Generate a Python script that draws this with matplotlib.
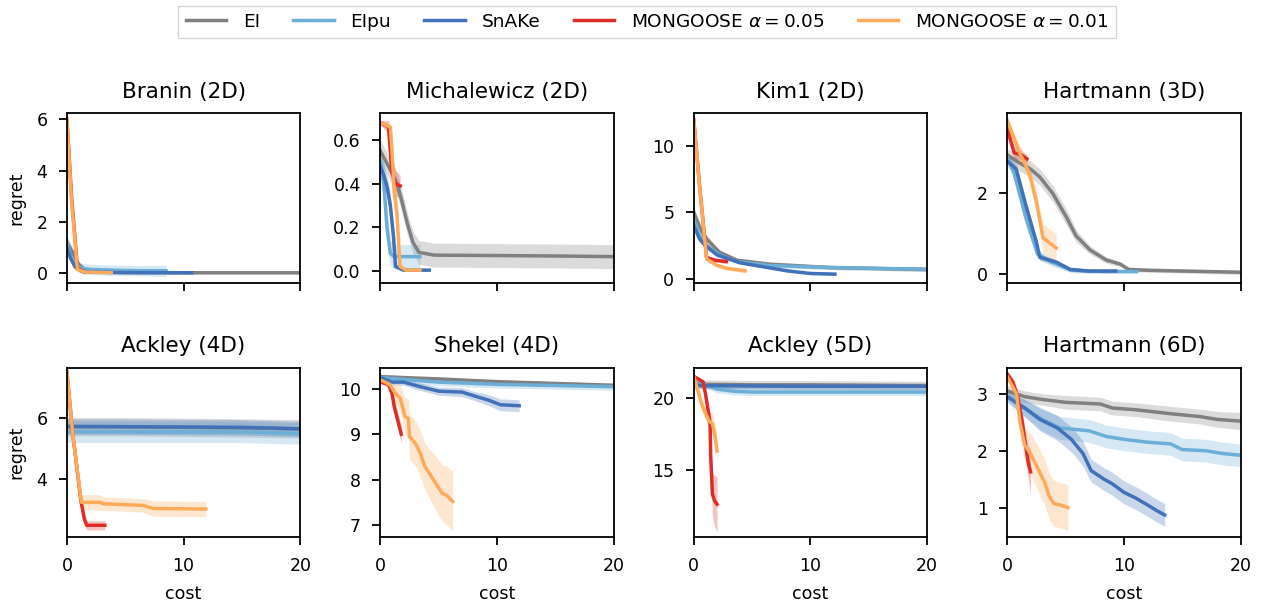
import matplotlib
matplotlib.use('Agg')
import matplotlib.pyplot as plt

plt.rcParams['font.size'] = 12.5
plt.rcParams['axes.linewidth'] = 1.3
plt.rcParams['xtick.major.size'] = 6
plt.rcParams['ytick.major.size'] = 6
plt.rcParams['xtick.major.width'] = 1.3
plt.rcParams['ytick.major.width'] = 1.3
plt.rcParams['xtick.major.pad'] = 8.5
plt.rcParams['ytick.major.pad'] = 8

methods = ['EI', 'EIpu', 'SnAKe', r'MONGOOSE $\alpha = 0.05$', r'MONGOOSE $\alpha = 0.01$']
colors = ['#808080', '#6baed6', '#4171b8', '#de2d26', '#fdaa5a']
titles = ['Branin (2D)', 'Michalewicz (2D)', 'Kim1 (2D)', 'Hartmann (3D)',
          'Ackley (4D)', 'Shekel (4D)', 'Ackley (5D)', 'Hartmann (6D)']

# each series: (cost, mean regret, half band width)
# Branin (2D)
bra_ei = ([0, 0.5, 1, 1.5, 2, 3, 5, 10, 20],
          [1.2, 0.8, 0.35, 0.15, 0.08, 0.05, 0.03, 0.02, 0.02],
          [0.25, 0.2, 0.12, 0.08, 0.06, 0.05, 0.05, 0.05, 0.05])
bra_eipu = ([0, 0.3, 0.7, 1.2, 2, 4, 6, 8.5],
            [1.2, 0.7, 0.35, 0.2, 0.15, 0.12, 0.1, 0.1],
            [0.3, 0.25, 0.2, 0.2, 0.2, 0.2, 0.2, 0.22])
bra_snake = ([0, 0.3, 0.7, 1.2, 2, 4, 10.7],
             [1.0, 0.6, 0.25, 0.1, 0.05, 0.03, 0.02],
             [0.2, 0.15, 0.1, 0.05, 0.04, 0.03, 0.03])
bra_m05 = ([0, 0.4, 0.9, 1.5], [6.0, 3.0, 0.2, 0.05], [0.1, 0.4, 0.1, 0.05])
bra_m01 = ([0, 0.4, 0.9, 1.5, 3.8], [6.0, 2.8, 0.15, 0.05, 0.02], [0.1, 0.3, 0.1, 0.04, 0.03])

# Michalewicz (2D)
mic_ei = ([0, 0.5, 1.0, 1.43, 1.8, 2.3, 2.8, 3.3, 4.6, 10, 15, 20],
          [0.55, 0.5, 0.45, 0.4, 0.33, 0.22, 0.13, 0.085, 0.072, 0.07, 0.068, 0.065],
          [0.05, 0.05, 0.05, 0.05, 0.05, 0.05, 0.05, 0.055, 0.055, 0.055, 0.055, 0.055])
mic_eipu = ([0, 0.3, 0.57, 0.86, 1.2, 3.4],
            [0.5, 0.4, 0.2, 0.08, 0.065, 0.065],
            [0.08, 0.1, 0.08, 0.06, 0.055, 0.055])
mic_snake = ([0, 0.3, 0.6, 0.86, 1.14, 1.3, 2, 4.2],
             [0.48, 0.44, 0.38, 0.3, 0.15, 0.02, 0.003, 0.003],
             [0.05, 0.05, 0.05, 0.05, 0.04, 0.01, 0.005, 0.005])
mic_m05 = ([0, 0.7, 1.0, 1.3, 1.7], [0.68, 0.66, 0.45, 0.4, 0.39], [0.01, 0.03, 0.08, 0.06, 0.05])
mic_m01 = ([0, 0.86, 1.0, 1.2, 1.43, 1.6, 1.7, 2.2, 3.4],
           [0.68, 0.66, 0.55, 0.36, 0.26, 0.1, 0.02, 0.003, 0.003],
           [0.01, 0.02, 0.08, 0.08, 0.07, 0.05, 0.02, 0.005, 0.005])

# Kim1 (2D)
kim_ei = ([0, 0.5, 1.1, 2.2, 3.7, 6.5, 11.7, 20],
          [5.0, 3.9, 3.0, 2.0, 1.4, 1.1, 0.85, 0.7],
          [0.4, 0.35, 0.3, 0.2, 0.15, 0.15, 0.15, 0.15])
kim_eipu = ([0, 0.5, 1.1, 2.2, 3.7, 6.5, 11.7, 20],
            [4.5, 3.3, 2.5, 1.8, 1.3, 1.0, 0.85, 0.72],
            [0.4, 0.3, 0.25, 0.2, 0.15, 0.15, 0.15, 0.15])
kim_snake = ([0, 0.5, 1, 2, 4, 6, 8, 10, 12.1],
             [4.0, 3.0, 2.5, 1.8, 1.2, 0.9, 0.6, 0.4, 0.35],
             [0.3, 0.25, 0.2, 0.15, 0.1, 0.08, 0.08, 0.08, 0.08])
kim_m05 = ([0, 0.5, 1.1, 1.8, 2.8], [12, 7, 1.6, 1.4, 1.3], [0.2, 0.4, 0.2, 0.15, 0.15])
kim_m01 = ([0, 0.5, 1.1, 2.0, 2.8, 4.4], [12, 7, 1.5, 1.0, 0.8, 0.6], [0.2, 0.4, 0.2, 0.15, 0.15, 0.15])

# Hartmann (3D)
h3_ei = ([0, 1.06, 2.0, 2.8, 3.9, 5.1, 5.9, 7.1, 8.5, 9.7, 10.4, 12, 15, 20],
         [2.95, 2.75, 2.6, 2.4, 2.0, 1.4, 0.95, 0.6, 0.35, 0.25, 0.12, 0.1, 0.08, 0.05],
         [0.15, 0.2, 0.2, 0.2, 0.2, 0.2, 0.15, 0.1, 0.08, 0.06, 0.05, 0.05, 0.05, 0.05])
h3_eipu = ([0, 0.6, 1.6, 2.6, 3.8, 5.5, 8, 11.1],
           [2.9, 2.5, 1.4, 0.5, 0.3, 0.1, 0.07, 0.07],
           [0.15, 0.2, 0.2, 0.12, 0.1, 0.06, 0.05, 0.05])
h3_snake = ([0, 0.77, 1.6, 2.5, 2.8, 4.2, 5.4, 7, 9.3],
            [2.8, 2.6, 1.7, 0.8, 0.42, 0.3, 0.12, 0.08, 0.08],
            [0.12, 0.15, 0.15, 0.12, 0.08, 0.06, 0.05, 0.04, 0.04])
h3_m05 = ([0, 0.6, 1.2, 1.7], [3.6, 3.0, 2.95, 2.85], [0.15, 0.15, 0.12, 0.1])
h3_m01 = ([0, 1.06, 1.9, 2.5, 3.07, 4.2], [3.8, 3.0, 2.5, 1.8, 0.9, 0.65], [0.1, 0.2, 0.2, 0.25, 0.35, 0.35])

# Ackley (4D)
a4_ei = ([0, 5, 10, 15, 20], [5.72, 5.72, 5.7, 5.68, 5.65], [0.3, 0.3, 0.3, 0.3, 0.3])
a4_eipu = ([0, 5, 10, 15, 20], [5.55, 5.55, 5.55, 5.55, 5.5], [0.35, 0.35, 0.35, 0.35, 0.35])
a4_snake = ([0, 5, 10, 15, 20], [5.73, 5.72, 5.71, 5.7, 5.65], [0.25, 0.25, 0.25, 0.25, 0.25])
a4_m05 = ([0, 0.5, 1.2, 1.5, 1.7, 3.25], [7.5, 5.5, 3.3, 2.7, 2.5, 2.5], [0.1, 0.2, 0.2, 0.2, 0.15, 0.15])
a4_m01 = ([0, 0.5, 1.24, 2.8, 3.2, 6.5, 7.4, 11.9],
          [7.5, 5.5, 3.25, 3.25, 3.2, 3.15, 3.05, 3.03],
          [0.1, 0.2, 0.25, 0.25, 0.22, 0.22, 0.25, 0.25])

# Shekel (4D)
sh_ei = ([0, 5, 10, 20], [10.27, 10.22, 10.16, 10.08], [0.04, 0.04, 0.04, 0.04])
sh_eipu = ([0, 5, 10, 20], [10.25, 10.15, 10.1, 10.05], [0.08, 0.08, 0.08, 0.08])
sh_snake = ([0, 1, 2, 3.4, 5, 7, 8, 9.3, 10.3, 11.9],
            [10.25, 10.15, 10.15, 10.05, 9.95, 9.93, 9.85, 9.75, 9.65, 9.63],
            [0.05, 0.06, 0.07, 0.08, 0.09, 0.1, 0.1, 0.12, 0.13, 0.13])
sh_m05 = ([0, 0.7, 1.0, 1.2, 1.5, 1.8], [10.15, 10.1, 9.9, 9.6, 9.3, 9.0], [0.03, 0.05, 0.1, 0.15, 0.2, 0.2])
sh_m01 = ([0, 0.8, 1.3, 1.7, 2.1, 2.4, 2.5, 3.0, 3.4, 3.8, 4.3, 4.8, 5.3, 5.7, 6.2],
          [10.2, 10.1, 9.9, 9.8, 9.4, 9.35, 8.95, 8.8, 8.6, 8.3, 8.1, 7.9, 7.7, 7.65, 7.52],
          [0.05, 0.1, 0.2, 0.3, 0.4, 0.45, 0.5, 0.5, 0.5, 0.5, 0.55, 0.6, 0.62, 0.65, 0.65])

# Ackley (5D)
a5_ei = ([0, 5, 10, 20], [20.95, 20.9, 20.9, 20.85], [0.3, 0.3, 0.3, 0.3])
a5_eipu = ([0, 1, 2, 3.5, 5, 10, 20], [21.3, 20.9, 20.6, 20.45, 20.4, 20.4, 20.4],
           [0.25, 0.25, 0.25, 0.25, 0.25, 0.25, 0.25])
a5_snake = ([0, 5, 10, 20], [20.85, 20.82, 20.8, 20.8], [0.2, 0.2, 0.2, 0.2])
a5_m05 = ([0, 0.8, 1.0, 1.4, 1.45, 1.6, 1.8, 2.0],
          [21.5, 21.1, 20.3, 18.3, 16.0, 13.3, 12.8, 12.6],
          [0.1, 0.2, 0.4, 0.6, 1.0, 1.5, 1.8, 1.9])
a5_m01 = ([0, 0.7, 1.3, 1.6, 1.8, 2.0], [21.5, 19.5, 18.4, 18.2, 17.5, 16.3], [0.1, 0.4, 0.6, 0.8, 0.8, 0.8])

# Hartmann (6D)
h6_ei = ([0, 1.5, 3, 5, 8, 9, 11, 14, 16.5, 18, 20],
         [3.05, 2.95, 2.9, 2.85, 2.82, 2.75, 2.72, 2.65, 2.6, 2.55, 2.52],
         [0.1, 0.1, 0.1, 0.12, 0.12, 0.12, 0.12, 0.13, 0.13, 0.14, 0.15])
h6_eipu = ([0, 1.5, 3, 4.5, 7, 8.5, 10, 12, 14, 15, 17, 18.5, 20],
           [2.95, 2.75, 2.55, 2.4, 2.35, 2.25, 2.2, 2.15, 2.12, 2.02, 2.0, 1.95, 1.92],
           [0.1, 0.15, 0.2, 0.2, 0.2, 0.2, 0.2, 0.2, 0.2, 0.2, 0.2, 0.2, 0.2])
h6_snake = ([0, 1.5, 2.8, 4.3, 5.5, 6.5, 7.2, 8.3, 9, 10, 11, 12, 12.8, 13.5],
            [2.95, 2.75, 2.55, 2.4, 2.2, 1.95, 1.65, 1.5, 1.42, 1.27, 1.17, 1.05, 0.95, 0.87],
            [0.08, 0.15, 0.2, 0.22, 0.22, 0.22, 0.2, 0.2, 0.2, 0.2, 0.2, 0.2, 0.2, 0.2])
h6_m05 = ([0, 0.5, 0.9, 1.3, 1.5, 1.8, 2.0], [3.35, 3.2, 2.95, 2.5, 2.2, 1.8, 1.63],
          [0.05, 0.08, 0.1, 0.15, 0.2, 0.3, 0.4])
h6_m01 = ([0, 0.8, 1.1, 1.5, 2.0, 2.6, 3.2, 3.6, 4.0, 4.5, 5.2],
          [3.3, 3.0, 2.5, 2.1, 1.95, 1.7, 1.45, 1.2, 1.07, 1.05, 1.0],
          [0.05, 0.1, 0.2, 0.3, 0.35, 0.4, 0.4, 0.4, 0.4, 0.4, 0.4])

panels = [
    [bra_ei, bra_eipu, bra_snake, bra_m05, bra_m01],
    [mic_ei, mic_eipu, mic_snake, mic_m05, mic_m01],
    [kim_ei, kim_eipu, kim_snake, kim_m05, kim_m01],
    [h3_ei, h3_eipu, h3_snake, h3_m05, h3_m01],
    [a4_ei, a4_eipu, a4_snake, a4_m05, a4_m01],
    [sh_ei, sh_eipu, sh_snake, sh_m05, sh_m01],
    [a5_ei, a5_eipu, a5_snake, a5_m05, a5_m01],
    [h6_ei, h6_eipu, h6_snake, h6_m05, h6_m01],
]
ylims = [(-0.37, 6.24), (-0.055, 0.724), (-0.3, 12.48), (-0.21, 3.98),
         (2.11, 7.65), (6.73, 10.47), (10.3, 22.1), (0.48, 3.46)]
yticks = [[0, 2, 4, 6], [0.0, 0.2, 0.4, 0.6], [0, 5, 10], [0, 2],
          [4, 6], [7, 8, 9, 10], [15, 20], [1, 2, 3]]

fig, axes = plt.subplots(2, 4, figsize=(12.62, 6.05), dpi=100, sharex=True)
fig.subplots_adjust(left=0.053, right=0.983, top=0.813, bottom=0.112, wspace=0.343, hspace=0.5)

for i, ax in enumerate(axes.flat):
    for (x, m, s), c, name in zip(panels[i], colors, methods):
        lo = [a - b for a, b in zip(m, s)]
        hi = [a + b for a, b in zip(m, s)]
        ax.fill_between(x, lo, hi, color=c, alpha=0.28, lw=0)
        ax.plot(x, m, color=c, lw=2.5, label=name)
    ax.set_title(titles[i], fontsize=15.5, pad=11)
    ax.set_xlim(0, 20)
    ax.set_xticks([0, 10, 20])
    ax.set_ylim(*ylims[i])
    ax.set_yticks(yticks[i])
    if i % 4 == 0:
        ax.set_ylabel('regret', labelpad=8)
    if i >= 4:
        ax.set_xlabel('cost', labelpad=7)

handles, labels = axes[0, 0].get_legend_handles_labels()
fig.legend(handles, labels, loc='upper center', bbox_to_anchor=(0.5127, 1.0), ncol=5,
           fontsize=13.3, fancybox=False, edgecolor='#cccccc', borderaxespad=0.3,
           columnspacing=1.8, handlelength=2.2, handletextpad=0.9)

fig.savefig('out.png', dpi=100)
